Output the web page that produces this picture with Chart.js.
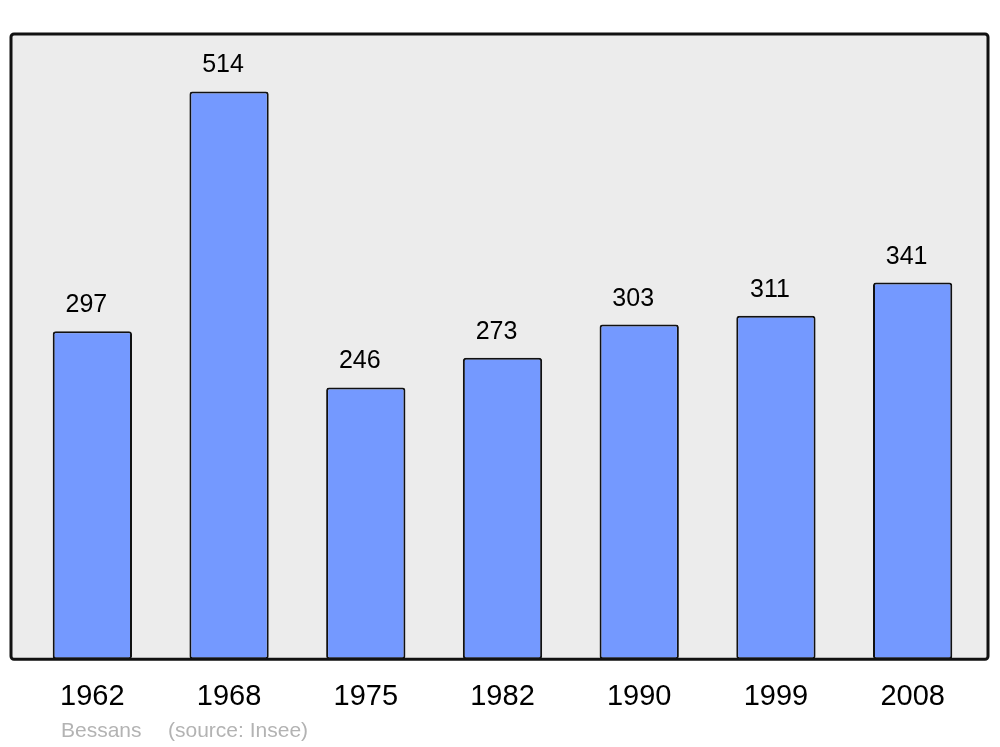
<!DOCTYPE html>
<html lang="fr">
<head>
<meta charset="UTF-8">
<title>Bessans - population</title>
<script src="https://cdn.jsdelivr.net/npm/chart.js"></script>
<style>
  body { margin: 0; background: #fff; }
  canvas { display: block; }
</style>
</head>
<body>
<canvas id="popChart" width="1000" height="747"></canvas>
<script>
const years = ['1962', '1968', '1975', '1982', '1990', '1999', '2008'];
const population = [297, 514, 246, 273, 303, 311, 341];
const commune = 'Bessans';
const source = '(source: Insee)';

// fond gris + cadre noir autour de la zone des barres
const framePlugin = {
  id: 'frame',
  beforeDatasetsDraw(chart) {
    const { ctx, chartArea: a } = chart;
    const x = a.left - 13, y = a.top, w = a.right + 7 - x, h = a.bottom - a.top;
    ctx.save();
    ctx.beginPath();
    ctx.roundRect(x, y, w, h, 3);
    ctx.fillStyle = '#ececec';
    ctx.fill();
    ctx.restore();
  },
  afterDatasetsDraw(chart) {
    const { ctx, chartArea: a } = chart;
    const x = a.left - 13, y = a.top, w = a.right + 7 - x, h = a.bottom - a.top;
    ctx.save();
    ctx.beginPath();
    ctx.roundRect(x, y, w, h, 3);
    ctx.lineWidth = 3;
    ctx.strokeStyle = '#111';
    ctx.stroke();
    ctx.restore();
  }
};

// valeurs au-dessus des barres + légende source
const labelPlugin = {
  id: 'labels',
  afterDraw(chart) {
    const ctx = chart.ctx;
    const meta = chart.getDatasetMeta(0);
    ctx.save();
    ctx.font = '25px "Liberation Sans", Arial, sans-serif';
    ctx.fillStyle = '#000';
    ctx.textAlign = 'center';
    ctx.textBaseline = 'alphabetic';
    meta.data.forEach((bar, i) => {
      ctx.fillText(String(population[i]), bar.x - 6, bar.y - 19);
    });
    ctx.font = '21px "Liberation Sans", Arial, sans-serif';
    ctx.fillStyle = '#b3b3b3';
    ctx.textAlign = 'left';
    ctx.fillText(commune, 61, 737);
    ctx.fillText(source, 168, 737);
    ctx.restore();
  }
};

new Chart(document.getElementById('popChart'), {
  type: 'bar',
  data: {
    labels: years,
    datasets: [{
      data: population,
      backgroundColor: '#7499ff',
      borderColor: '#111',
      borderWidth: 2,
      borderSkipped: false,
      borderRadius: 3,
      categoryPercentage: 1,
      barPercentage: 0.58
    }]
  },
  options: {
    responsive: false,
    animation: false,
    layout: { padding: { left: 24, right: 19, top: 34, bottom: 13 } },
    plugins: { legend: { display: false }, tooltip: { enabled: false } },
    scales: {
      x: {
        grid: { display: false, drawTicks: false },
        border: { display: false },
        ticks: {
          color: '#000',
          padding: 20,
          font: { size: 29, family: '"Liberation Sans", Arial, sans-serif' }
        }
      },
      y: {
        display: false,
        min: 0,
        max: 566
      }
    }
  },
  plugins: [framePlugin, labelPlugin]
});
</script>
</body>
</html>
